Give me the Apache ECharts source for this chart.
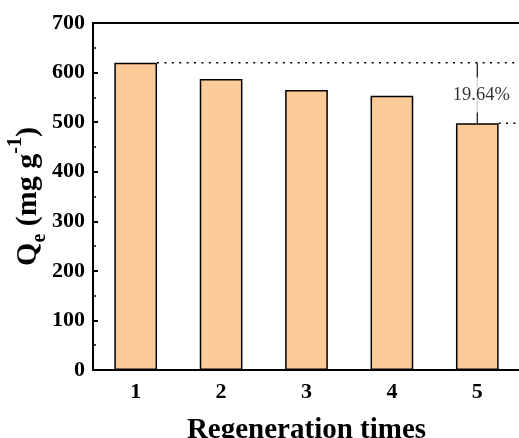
<!DOCTYPE html>
<html>
<head>
<meta charset="utf-8">
<script src="https://cdn.jsdelivr.net/npm/echarts@6/dist/echarts.min.js"></script>
<style>
  html, body { margin: 0; padding: 0; background: #fff; }
  #chart { width: 519px; height: 438px; }
</style>
</head>
<body>
<div id="chart"></div>
<script>
const categories = ['1', '2', '3', '4', '5']
const qeValues = [620, 587, 565, 553, 498]
const yTicks = { min: 0, max: 700, interval: 100 }
const dropLabel = '19.64%'

const barFrac = 0.5
const serif = '"Liberation Serif", "Times New Roman", serif'
const first = qeValues[0]
const last = qeValues[qeValues.length - 1]
const lastX = qeValues.length

const chart = echarts.init(document.getElementById('chart'))
chart.setOption({
  animation: false,
  grid: { left: 93, top: 23, width: 427, height: 347, containLabel: false, outerBoundsMode: 'none' },
  xAxis: [
    {
      type: 'category',
      data: categories,
      position: 'bottom',
      name: 'Regeneration times',
      nameLocation: 'middle',
      nameGap: 46,
      nameMoveOverlap: false,
      nameTextStyle: { fontFamily: serif, fontWeight: 'bold', fontSize: 29, color: '#000' },
      axisLine: { lineStyle: { color: '#000', width: 2 } },
      axisTick: { alignWithLabel: true, length: 6, lineStyle: { color: '#000', width: 2 } },
      axisLabel: { fontFamily: serif, fontWeight: 'bold', fontSize: 22, color: '#000', margin: 11 }
    },
    {
      type: 'value',
      position: 'top',
      min: 0.5,
      max: 5.5,
      axisLine: { show: true, onZero: false, lineStyle: { color: '#000', width: 2 } },
      axisTick: { show: false },
      axisLabel: { show: false },
      splitLine: { show: false }
    },
    {
      type: 'category',
      data: categories,
      position: 'bottom',
      axisLine: { show: false },
      axisTick: { alignWithLabel: false, length: 3, lineStyle: { color: '#000', width: 1.5 } },
      axisLabel: { show: false }
    }
  ],
  yAxis: {
    type: 'value',
    min: yTicks.min,
    max: yTicks.max,
    interval: yTicks.interval,
    name: '{a|Q}{b|e}{a| (mg g}{c|-1}{a|)}',
    nameLocation: 'middle',
    nameGap: 43,
    nameMoveOverlap: false,
    nameTextStyle: {
      fontFamily: serif, fontWeight: 'bold', color: '#000',
      rich: {
        a: { fontFamily: serif, fontWeight: 'bold', fontSize: 30, lineHeight: 44, verticalAlign: 'middle', color: '#000' },
        b: { fontFamily: serif, fontWeight: 'bold', fontSize: 20, lineHeight: 28, verticalAlign: 'bottom', color: '#000' },
        c: { fontFamily: serif, fontWeight: 'bold', fontSize: 20, lineHeight: 32, verticalAlign: 'top', color: '#000' }
      }
    },
    axisLine: { show: true, lineStyle: { color: '#000', width: 2 } },
    axisTick: { show: true, inside: true, length: 5, lineStyle: { color: '#000', width: 2 } },
    minorTick: { show: true, splitNumber: 2, length: 3, lineStyle: { color: '#000', width: 1.5 } },
    axisLabel: { fontFamily: serif, fontWeight: 'bold', fontSize: 22, color: '#000', margin: 8 },
    splitLine: { show: false }
  },
  series: [
    {
      type: 'bar',
      data: qeValues,
      barWidth: (barFrac * 100) + '%',
      itemStyle: { color: '#FDCB98', borderColor: '#000', borderWidth: 1.5 }
    },
    {
      type: 'line',
      xAxisIndex: 1,
      symbol: 'none',
      data: [[1 + barFrac / 2, first], [5.5, first]],
      lineStyle: { color: '#000', width: 1.5, type: [2, 5.4] },
      z: 5
    },
    {
      type: 'line',
      xAxisIndex: 1,
      symbol: 'none',
      data: [[lastX + barFrac / 2, last], [5.5, last]],
      lineStyle: { color: '#000', width: 1.5, type: [2, 5.4] },
      z: 5
    },
    {
      type: 'line',
      xAxisIndex: 1,
      symbol: 'none',
      data: [[lastX, first], [lastX, last]],
      lineStyle: { color: '#222', width: 1.3 },
      z: 6
    },
    {
      type: 'scatter',
      xAxisIndex: 1,
      symbolSize: 0,
      data: [[lastX, (first + last) / 2]],
      label: {
        show: true,
        position: 'inside',
        formatter: dropLabel,
        offset: [4, 2],
        fontFamily: serif,
        fontSize: 18.5,
        color: '#000',
        backgroundColor: '#fff',
        padding: [8, 2]
      },
      z: 7
    }
  ]
})
</script>
</body>
</html>
